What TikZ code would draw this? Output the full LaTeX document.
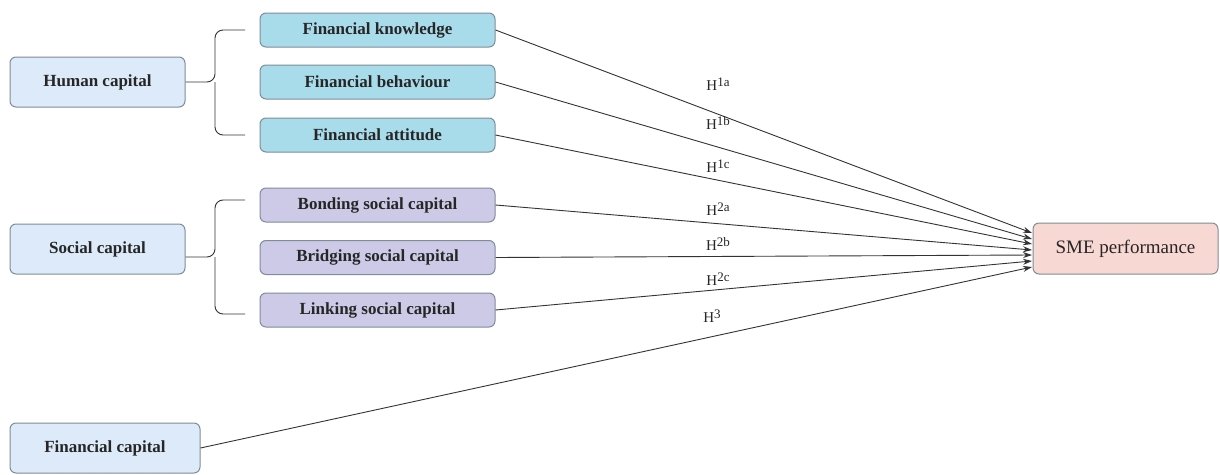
\documentclass[tikz,border=0pt]{standalone}
\usepackage{fontspec}
\setmainfont{Liberation Serif}
\usetikzlibrary{arrows.meta}
\definecolor{capfill}{HTML}{DCEAF9}
\definecolor{capdraw}{HTML}{7F8C9A}
\definecolor{finfill}{HTML}{A9DCEA}
\definecolor{socfill}{HTML}{CCCAE6}
\definecolor{smefill}{HTML}{F8D8D2}
\definecolor{linecol}{HTML}{333333}
\tikzset{
  box/.style={draw=capdraw, line width=1pt, rounded corners=6pt, align=center,
    font=\fontsize{17}{19}\selectfont\bfseries, text=black!85},
  capbox/.style={box, fill=capfill, minimum width=175pt, minimum height=50pt},
  finbox/.style={box, fill=finfill, minimum width=235pt, minimum height=34pt},
  socbox/.style={box, fill=socfill, minimum width=235pt, minimum height=34pt},
  smebox/.style={box, fill=smefill, minimum width=185pt, minimum height=51pt, font=\fontsize{19}{21}\selectfont},
  link/.style={draw=linecol, line width=0.9pt, -{Stealth[length=9pt,width=6pt]}},
  brace/.style={draw=linecol, line width=0.9pt, rounded corners=8pt},
  hlabel/.style={font=\fontsize{15}{17}\selectfont, text=black!85}
}
\newcommand{\hyp}[1]{H\raisebox{0.65ex}{\fontsize{13}{13}\selectfont #1}}
\begin{document}
\begin{tikzpicture}[x=1pt,y=-1pt]
\useasboundingbox (0,0) rectangle (1220,474);

% left-hand constructs
\node[capbox] (human)  at (97.5,82)  {Human capital};
\node[capbox] (social) at (97.5,249) {Social capital};
\node[capbox, minimum width=190pt] (fincap) at (105,448) {Financial capital};

% dimensions of human capital
\node[finbox] (know)  at (377.5,30)  {Financial knowledge};
\node[finbox] (behav) at (377.5,82)  {Financial behaviour};
\node[finbox] (attit) at (377.5,135) {Financial attitude};

% dimensions of social capital
\node[socbox] (bond)   at (377.5,205) {Bonding social capital};
\node[socbox] (bridge) at (377.5,257.5) {Bridging social capital};
\node[socbox] (linkc)  at (377.5,310) {Linking social capital};

% outcome
\node[smebox] (sme) at (1125.5,248.5) {SME performance};

% braces grouping the dimensions
\coordinate (hb1) at (245,30);
\coordinate (hb2) at (245,135);
\coordinate (htip) at (215,82);
\draw[brace] (hb1) -| (htip) -- (human.east);
\draw[brace] (hb2) -| (htip);
\coordinate (sb1) at (245,200);
\coordinate (sb2) at (245,314);
\coordinate (stip) at (215,257);
\draw[brace] (sb1) -| (stip) -- (social.east |- stip);
\draw[brace] (sb2) -| (stip);

% arrow end points on the outcome
\coordinate (e1) at (1032,233);
\coordinate (e2) at (1032,239);
\coordinate (e3) at (1032,244);
\coordinate (e4) at (1032,250);
\coordinate (e5) at (1032,255);
\coordinate (e6) at (1032,261);
\coordinate (e7) at (1032,267);

\draw[link] (know.east)   -- (e1);
\draw[link] (behav.east)  -- (e2);
\draw[link] (attit.east)  -- (e3);
\draw[link] (bond.east)   -- (e4);
\draw[link] (bridge.east) -- (e5);
\draw[link] (linkc.east)  -- (e6);
\draw[link] (fincap.east) -- (e7);

% hypothesis labels
\node[hlabel] (h1a) at (718,84)  {\hyp{1a}};
\node[hlabel] (h1b) at (718,123) {\hyp{1b}};
\node[hlabel] (h1c) at (718,166) {\hyp{1c}};
\node[hlabel] (h2a) at (718,209) {\hyp{2a}};
\node[hlabel] (h2b) at (718,244) {\hyp{2b}};
\node[hlabel] (h2c) at (718,279) {\hyp{2c}};
\node[hlabel] (h3)  at (712,316) {\hyp{3}};
\end{tikzpicture}
\end{document}
